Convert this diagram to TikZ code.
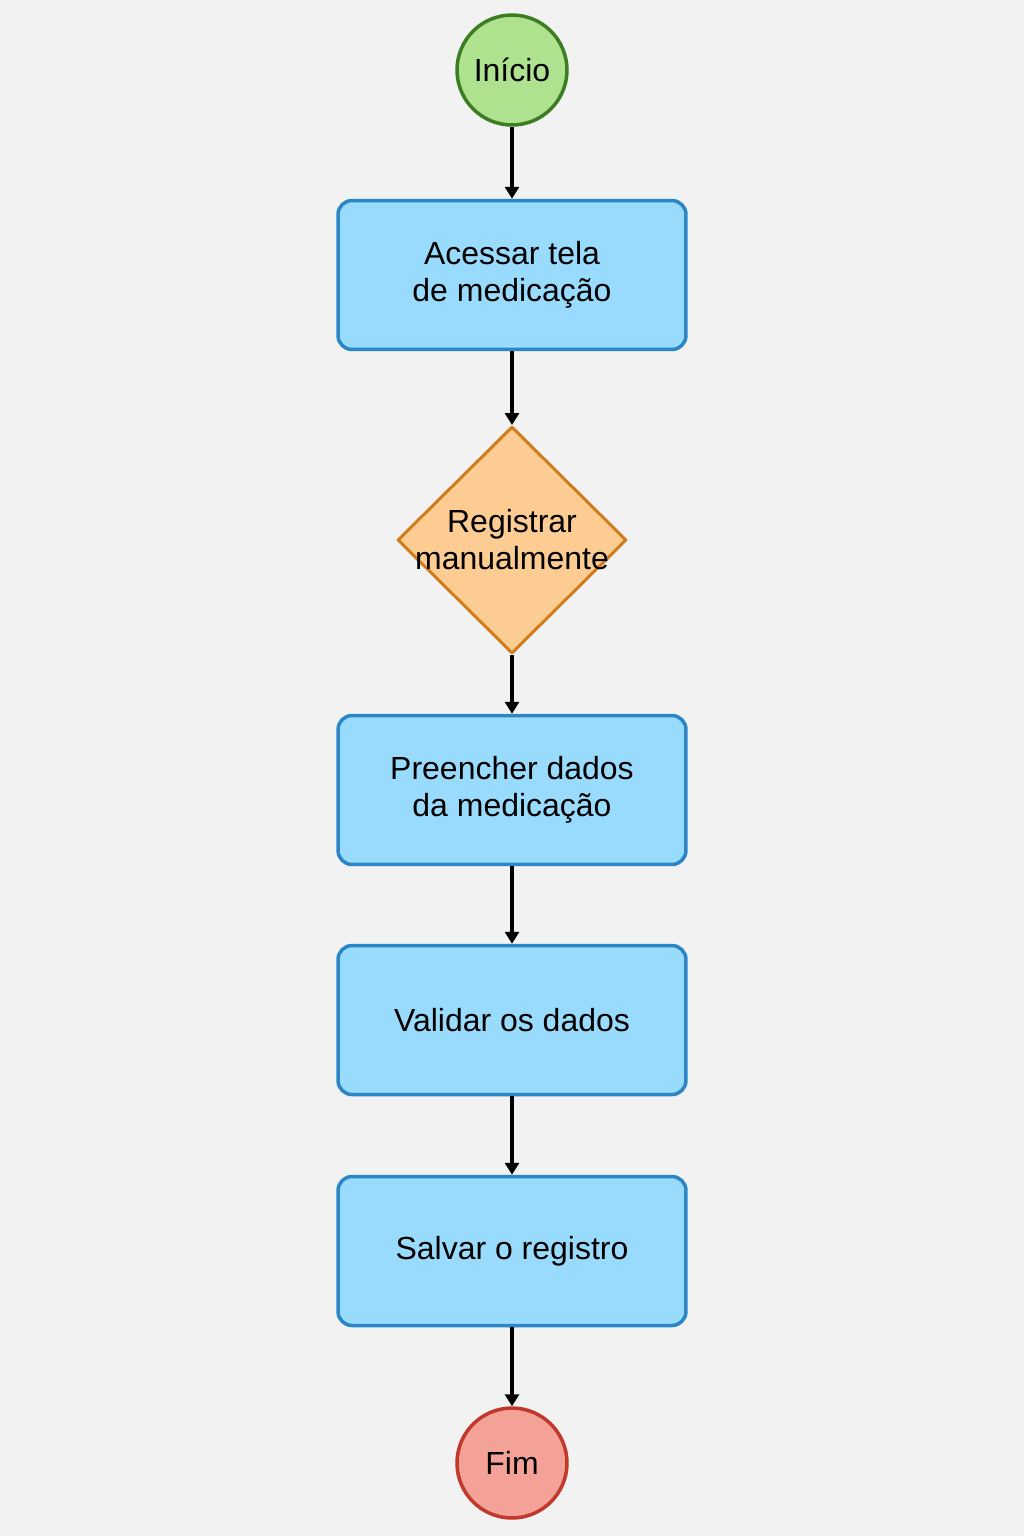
\documentclass[tikz,border=0pt]{standalone}
\usepackage{fontspec}
\setmainfont{Liberation Sans}
\usetikzlibrary{shapes.geometric,arrows.meta}
\definecolor{fundo}{HTML}{F2F2F2}
\definecolor{verde}{HTML}{AEE28F}
\definecolor{verdeborda}{HTML}{3C7D22}
\definecolor{azul}{HTML}{99DBFC}
\definecolor{azulborda}{HTML}{2A86C6}
\definecolor{laranja}{HTML}{FDCC92}
\definecolor{laranjaborda}{HTML}{D27D1C}
\definecolor{vermelho}{HTML}{F4A297}
\definecolor{vermelhoborda}{HTML}{C0392B}
\tikzset{
	texto/.style={align=center, font=\fontsize{18.2}{21}\selectfont},
	etapa/.style={texto, draw=azulborda, fill=azul, rounded corners=0.28cm, line width=0.07cm, minimum width=6.96cm, minimum height=2.98cm},
	inicio/.style={texto, circle, draw=verdeborda, fill=verde, line width=0.07cm, minimum size=2.2cm, inner sep=0pt},
	fim/.style={texto, circle, draw=vermelhoborda, fill=vermelho, line width=0.07cm, minimum size=2.2cm, inner sep=0pt},
	decisao/.style={diamond, aspect=1, draw=laranjaborda, fill=laranja, line width=0.06cm, minimum width=4.58cm, minimum height=4.54cm, inner sep=0pt}
}
\begin{document}
\begin{tikzpicture}[x=0.02cm, y=-0.02cm, >={Triangle[length=0.24cm,width=0.28cm]}, line join=round]
	\fill[fundo] (0,0) rectangle (1024,1536);
	\path (512,70)coordinate(I) (512,275)coordinate(E1) (512,540)coordinate(D)
	(512,790)coordinate(E2) (512,1020)coordinate(E3) (512,1251)coordinate(E4) (512,1463)coordinate(F);
	\node[inicio] (ini) at (I) {Início};
	\node[etapa] (acessar) at (E1) {Acessar tela\\de medicação};
	\node[decisao] (dec) at (D) {};
	\node[texto] (dectexto) at (D) {Registrar\\manualmente};
	\node[etapa] (preencher) at (E2) {Preencher dados\\da medicação};
	\node[etapa] (validar) at (E3) {Validar os dados};
	\node[etapa] (salvar) at (E4) {Salvar o registro};
	\node[fim] (fim) at (F) {Fim};
	\foreach \a/\b in {ini/acessar,acessar/dec,dec/preencher,preencher/validar,validar/salvar,salvar/fim}
	{
		\draw[->, line width=0.065cm] (\a) -- (\b);
	}
\end{tikzpicture}
\end{document}
